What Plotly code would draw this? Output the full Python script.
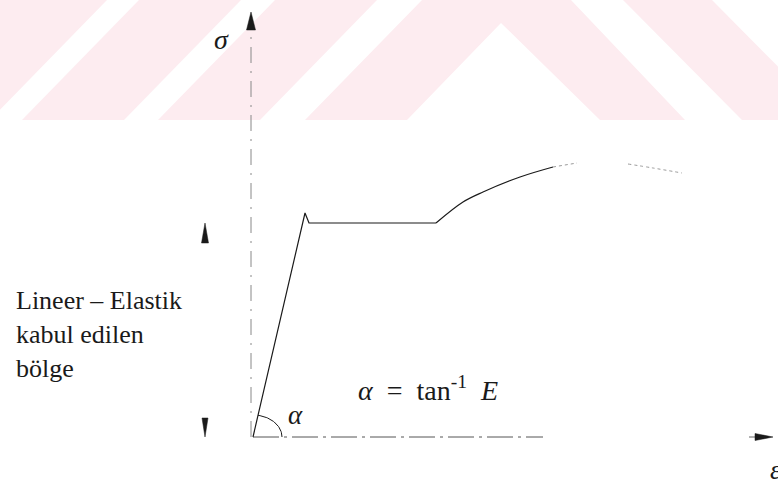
import numpy as np
import plotly.graph_objects as go

# ---- schematic stress-strain data (arbitrary units) ----
elastic_eps = [0.02, 0.54, 0.58, 1.85]
elastic_sig = [0.00, 2.24, 2.14, 2.14]
harden_eps = [1.85, 2.12, 2.32, 2.69, 3.02]
harden_sig = [2.14, 2.35, 2.45, 2.60, 2.70]
faint_eps = [3.02, 3.26, None, 3.77, 4.02, 4.31]
faint_sig = [2.70, 2.74, None, 2.73, 2.69, 2.64]

sigma_axis_top = 4.07
eps_axis_end = 2.92
eps_arrow_seg = [4.98, 5.04]
dim_x = -0.46
dim_top = 2.14
dim_bottom = 0.0

X_RANGE = [-2.51, 5.27]
Y_RANGE = [-0.42, 4.37]
W, H = 778, 479

INK = "#1a1a1a"
SERIF = "Liberation Serif"

fig = go.Figure()

# watermark (background decoration), in pixel units of the page
wm_polys = [
    [(-10, 0), (107, 0), (-10, 120), (-127, 120)],
    [(139, 0), (241, 0), (124, 120), (22, 120)],
    [(275, 0), (377, 0), (260, 120), (158, 120)],
    [(422, 0), (571, 0), (685, 120), (600, 120), (501, 23), (407, 120), (305, 120)],
    [(623, 0), (712, 0), (831, 120), (742, 120)],
]
shapes = []
for poly in wm_polys:
    path = "M " + " L ".join(f"{px / W:.5f},{1 - py / H:.5f}" for px, py in poly) + " Z"
    shapes.append(dict(type="path", xref="paper", yref="paper", path=path,
                       fillcolor="rgb(253,236,240)", line=dict(width=0), layer="below"))


def line(x, y, color=INK, width=1.2, dash="solid", shape="linear"):
    fig.add_trace(go.Scatter(x=x, y=y, mode="lines", hoverinfo="skip",
                             line=dict(color=color, width=width, dash=dash, shape=shape)))


def head(tip_x, tip_y, dx, dy, length, half):
    # filled arrow head pointing in (dx, dy)
    bx, by = tip_x - dx * length, tip_y - dy * length
    px, py = -dy * half, dx * half
    fig.add_trace(go.Scatter(x=[tip_x, bx + px, bx - px, tip_x], y=[tip_y, by + py, by - py, tip_y],
                             mode="lines", fill="toself", fillcolor=INK,
                             line=dict(color=INK, width=0.5), hoverinfo="skip"))


# axes
line([0, 0], [0, sigma_axis_top], color="#888", width=1, dash="16px,8px,2px,8px")
head(0, sigma_axis_top + 0.18, 0, 1, 0.18, 0.045)
line([elastic_eps[0], eps_axis_end], [0, 0], color="#555", width=1, dash="26px,5px,3px,5px")
line(eps_arrow_seg, [0, 0], color="#666", width=1)
head(eps_arrow_seg[1] + 0.18, 0, 1, 0, 0.18, 0.035)

# elastic-region dimension arrows
head(dim_x, dim_top, 0, 1, 0.20, 0.035)
head(dim_x, dim_bottom, 0, -1, 0.19, 0.03)

# curve
line(elastic_eps, elastic_sig)
line(harden_eps, harden_sig, shape="spline")
line(faint_eps, faint_sig, color="#9a9a9a", width=1, dash="dot", shape="spline")

# angle arc
t = np.linspace(0, np.deg2rad(80), 40)
line(elastic_eps[0] + 0.29 * np.cos(t), 0.22 * np.sin(t), width=1)

ann = [
    dict(x=-0.30, y=3.98, text="<i>σ</i>", size=28, xanchor="center", yanchor="middle"),
    dict(x=5.17, y=-0.33, text="<i>ε</i>", size=27, xanchor="left", yanchor="middle"),
    dict(x=0.44, y=0.22, text="<i>α</i>", size=27, xanchor="center", yanchor="middle"),
    dict(x=-2.37, y=1.53, text="Lineer – Elastik<br>kabul edilen<br>bölge", size=26,
         xanchor="left", yanchor="top", align="left"),
    dict(x=1.05, y=0.49,
         text="<i>α</i>&nbsp;&nbsp;=&nbsp;&nbsp;tan<sup>-1</sup>&nbsp;&nbsp;<i>E</i>", size=28,
         xanchor="left", yanchor="middle"),
]
annotations = [dict(x=a["x"], y=a["y"], xref="x", yref="y", text=a["text"], showarrow=False,
                    xanchor=a["xanchor"], yanchor=a["yanchor"], align=a.get("align", "center"),
                    font=dict(family=SERIF, size=a["size"], color=INK)) for a in ann]

fig.update_layout(
    width=W, height=H, margin=dict(l=0, r=0, t=0, b=0),
    paper_bgcolor="white", plot_bgcolor="rgba(0,0,0,0)", showlegend=False,
    xaxis=dict(range=X_RANGE, visible=False, fixedrange=True),
    yaxis=dict(range=Y_RANGE, visible=False, fixedrange=True),
    shapes=shapes, annotations=annotations,
)
fig.write_html("out.html", config={"displayModeBar": False},
               post_script="document.body.style.margin='0';document.body.style.overflow='hidden';")
